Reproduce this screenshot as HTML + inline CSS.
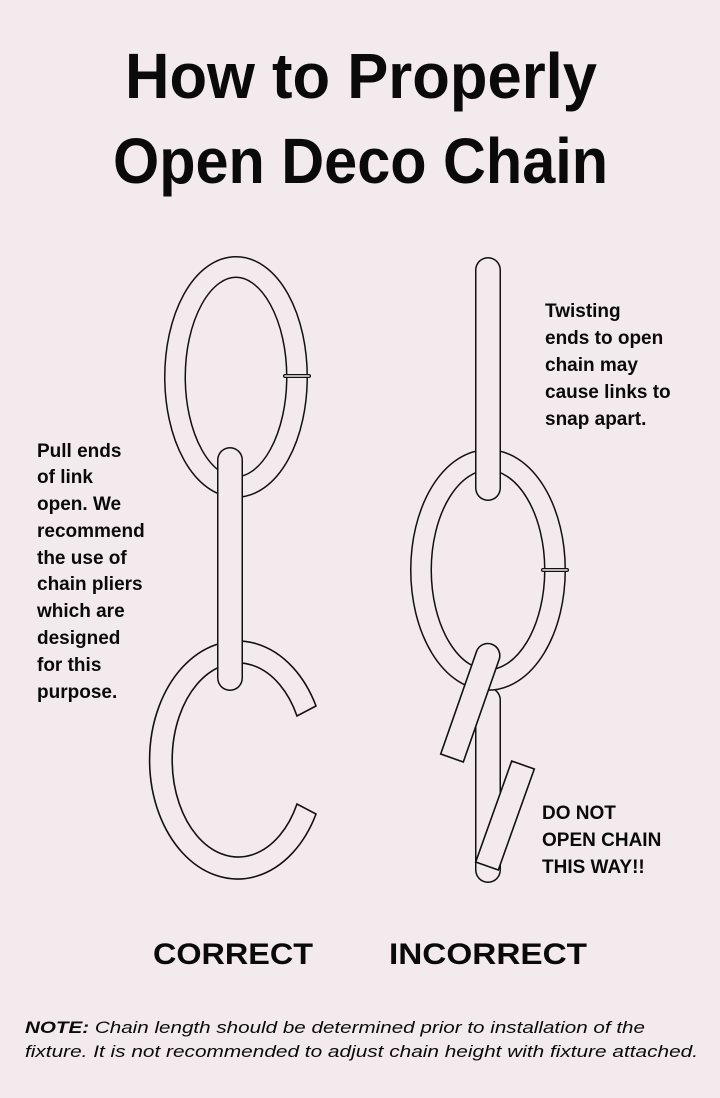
<!DOCTYPE html>
<html><head><meta charset="utf-8"><style>
html,body{margin:0;padding:0;background:#f3eaed;}
svg{display:block;}
text{font-family:"Liberation Sans",sans-serif;fill:#0a0a0a;}
</style></head><body>
<svg width="720" height="1098" viewBox="0 0 720 1098" xmlns="http://www.w3.org/2000/svg">
<rect width="720" height="1098" fill="#f3eaed"/>
<g font-weight="bold">
<text x="125" y="98" font-size="64" textLength="472" lengthAdjust="spacingAndGlyphs">How to Properly</text>
<text x="113" y="183" font-size="64" textLength="495" lengthAdjust="spacingAndGlyphs">Open Deco Chain</text>
</g>
<g fill="none" stroke-linecap="round">
<!-- LEFT top ring -->
<ellipse cx="236" cy="377" rx="61" ry="110" stroke="#111" stroke-width="22"/>
<ellipse cx="236" cy="377" rx="61" ry="110" stroke="#f3eaed" stroke-width="19"/>
<line x1="285" y1="376" x2="309" y2="376" stroke="#111" stroke-width="4"/>
<line x1="285" y1="376" x2="309" y2="376" stroke="#f3eaed" stroke-width="1.5"/>
<!-- LEFT C -->
<path d="M316,706 A88,119 0 1,0 316,814 L297,804 A66,97 0 1,1 297,716 Z" fill="#f3eaed" stroke="#111" stroke-width="1.6" stroke-linejoin="miter"/>
<!-- LEFT rod -->
<line x1="230" y1="460" x2="230" y2="678" stroke="#111" stroke-width="26"/>
<line x1="230" y1="460" x2="230" y2="678" stroke="#f3eaed" stroke-width="23"/>
<!-- RIGHT vertical rod lower -->
<line x1="488" y1="700" x2="488" y2="870" stroke="#111" stroke-width="26"/>
<line x1="488" y1="700" x2="488" y2="870" stroke="#f3eaed" stroke-width="23"/>
<!-- RIGHT ring -->
<ellipse cx="488" cy="570" rx="67" ry="110" stroke="#111" stroke-width="22"/>
<ellipse cx="488" cy="570" rx="67" ry="110" stroke="#f3eaed" stroke-width="19"/>
<line x1="543" y1="570" x2="567" y2="570" stroke="#111" stroke-width="4"/>
<line x1="543" y1="570" x2="567" y2="570" stroke="#f3eaed" stroke-width="1.5"/>
<!-- RIGHT top rod -->
<line x1="488" y1="270" x2="488" y2="488" stroke="#111" stroke-width="26"/>
<line x1="488" y1="270" x2="488" y2="488" stroke="#f3eaed" stroke-width="23"/>
<!-- tilted bars -->
<path d="M499.3,659 L463.3,762 L440.7,754 L476.7,651 A12,12 0 0,1 499.3,659 Z" fill="#f3eaed" stroke="#111" stroke-width="1.6"/>
<path d="M534.3,769 L498.3,870 L475.7,862 L511.7,761 Z" fill="#f3eaed" stroke="#111" stroke-width="1.6"/>
</g>
<g font-weight="bold" font-size="19">
<text x="37" y="457">Pull ends</text>
<text x="37" y="483">of link</text>
<text x="37" y="510">open. We</text>
<text x="37" y="537">recommend</text>
<text x="37" y="564">the use of</text>
<text x="37" y="590">chain pliers</text>
<text x="37" y="617">which are</text>
<text x="37" y="644">designed</text>
<text x="37" y="671">for this</text>
<text x="37" y="698">purpose.</text>
<text x="545" y="317">Twisting</text>
<text x="545" y="344">ends to open</text>
<text x="545" y="371">chain may</text>
<text x="545" y="398">cause links to</text>
<text x="545" y="425">snap apart.</text>
<text x="542" y="819">DO NOT</text>
<text x="542" y="846">OPEN CHAIN</text>
<text x="542" y="873">THIS WAY!!</text>
</g>
<g font-weight="bold" font-size="30">
<text x="153" y="964" textLength="160" lengthAdjust="spacingAndGlyphs">CORRECT</text>
<text x="389" y="964" textLength="198" lengthAdjust="spacingAndGlyphs">INCORRECT</text>
</g>
<g font-style="italic" font-size="16.5" fill="#222">
<text x="25" y="1033" textLength="620" lengthAdjust="spacingAndGlyphs"><tspan font-weight="bold">NOTE:</tspan> Chain length should be determined prior to installation of the</text>
<text x="25" y="1057" textLength="673" lengthAdjust="spacingAndGlyphs">fixture.  It is not recommended to adjust chain height with fixture attached.</text>
</g>
</svg>
</body></html>
